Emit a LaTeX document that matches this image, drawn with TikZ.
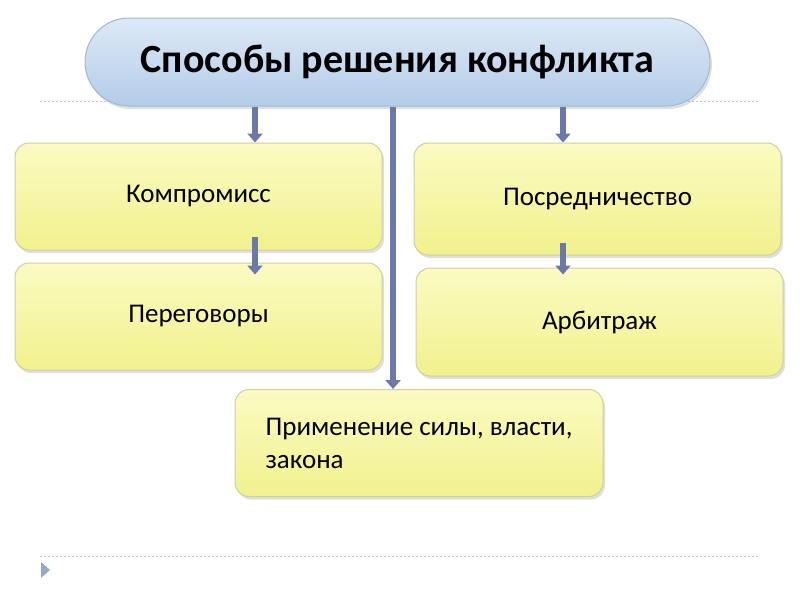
\documentclass[tikz,border=0pt]{standalone}
\usepackage{fontspec}
\setmainfont{Carlito}
\usepackage{xcolor}
\usetikzlibrary{arrows.meta,shadows}

\definecolor{titletop}{HTML}{DDE9F6}
\definecolor{titlebot}{HTML}{B3CCE8}
\definecolor{titleedge}{HTML}{A3B8D0}
\definecolor{boxtop}{HTML}{FBFBC2}
\definecolor{boxbot}{HTML}{F1F18E}
\definecolor{boxedge}{HTML}{CFCFA4}
\definecolor{arrowblue}{HTML}{6C78A8}
\definecolor{markblue}{HTML}{93ABCA}

\tikzset{
  titlebox/.style={draw=titleedge, line width=1pt, top color=titletop, bottom color=titlebot,
    rounded corners=44pt, minimum width=625pt, minimum height=88pt,
    drop shadow={shadow xshift=2pt, shadow yshift=-3pt, opacity=0.25},
    font=\fontsize{40}{44}\selectfont\bfseries},
  waybox/.style={draw=boxedge, line width=1pt, top color=boxtop, bottom color=boxbot,
    rounded corners=14pt, minimum width=367pt, minimum height=107pt,
    drop shadow={shadow xshift=2pt, shadow yshift=-3pt, opacity=0.25},
    font=\fontsize{27}{33}\selectfont},
  downarrow/.style={line width=6pt, arrowblue, -{Triangle[length=9pt,width=15pt]}},
  guide/.style={gray!45, line width=1pt, dash pattern=on 2pt off 2pt}
}

\begin{document}
\begin{tikzpicture}[x=1pt,y=-1pt]
  \useasboundingbox (0,0) rectangle (800,600);

  % 虚线与小三角
  \draw[guide] (40,101) -- (760,101);
  \draw[guide] (40,556) -- (760,556);
  \fill[markblue] (41,562) -- (50,570) -- (41,578) -- cycle;

  % 标题
  \node[titlebox] (title) at (397.5,62) {Способы решения конфликта};

  % 方框
  \node[waybox] (komp) at (198.5,196.5) {Компромисс};
  \node[waybox] (perego) at (198.5,316.5) {Переговоры};
  \node[waybox, minimum height=112pt] (posred) at (597.5,199) {Посредничество};
  \node[waybox, minimum height=108pt] (arbitr) at (599.5,322) {Арбитраж};
  \node[waybox, minimum width=368pt, align=left] (primen) at (419,443)
    {Применение силы, власти,\\закона};

  % 箭头
  \coordinate (lx) at (255,0);
  \coordinate (mx) at (393,0);
  \coordinate (rx) at (563,0);
  \draw[downarrow] (title.south -| lx) -- (komp.north -| lx);
  \draw[downarrow] (title.south -| mx) -- (primen.north -| mx);
  \draw[downarrow] (title.south -| rx) -- (posred.north -| rx);
  \draw[downarrow] ([yshift=14pt]komp.south -| lx) -- ([yshift=-12pt]perego.north -| lx);
  \draw[downarrow] ([yshift=13pt]posred.south -| rx) -- ([yshift=-7pt]arbitr.north -| rx);
\end{tikzpicture}
\end{document}
